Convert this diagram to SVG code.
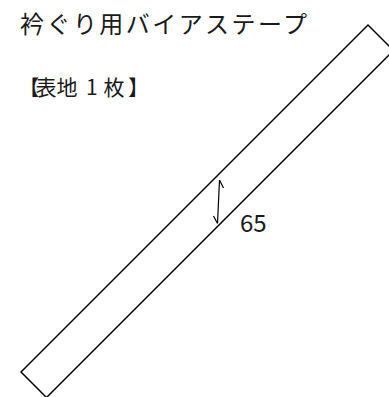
<svg xmlns="http://www.w3.org/2000/svg" width="389" height="397" viewBox="0 0 389 397">
<style>
.t{font-family:"Noto Sans CJK JP","Noto Sans",sans-serif;fill:#1a1a1a}
.ln{fill:none;stroke:#000;stroke-width:1.5;stroke-linejoin:miter}
.dim{fill:none;stroke:#000;stroke-width:1.2}
</style>
<rect width="389" height="397" fill="#fff"/>
<g id="title"><text class="t" x="20" y="33" font-size="24" textLength="287" lengthAdjust="spacing">衿ぐり用バイアステープ</text></g>
<g id="label"><text class="t" font-size="21" y="95" x="18.5 35.5 56.5 77 86 96 103.5 128">【表地 1 枚】</text></g>
<g id="strip"><polygon class="ln" points="21,372 368,25 393.5,50.5 46.5,397.5"/></g>
<g id="dimension">
<path class="dim" d="M219.5,180 L217.5,223.5 M219.5,180 L223.5,188 M217.5,223.5 L213.5,216"/>
<text class="t" x="240" y="232" font-size="24">65</text>
</g>
</svg>
